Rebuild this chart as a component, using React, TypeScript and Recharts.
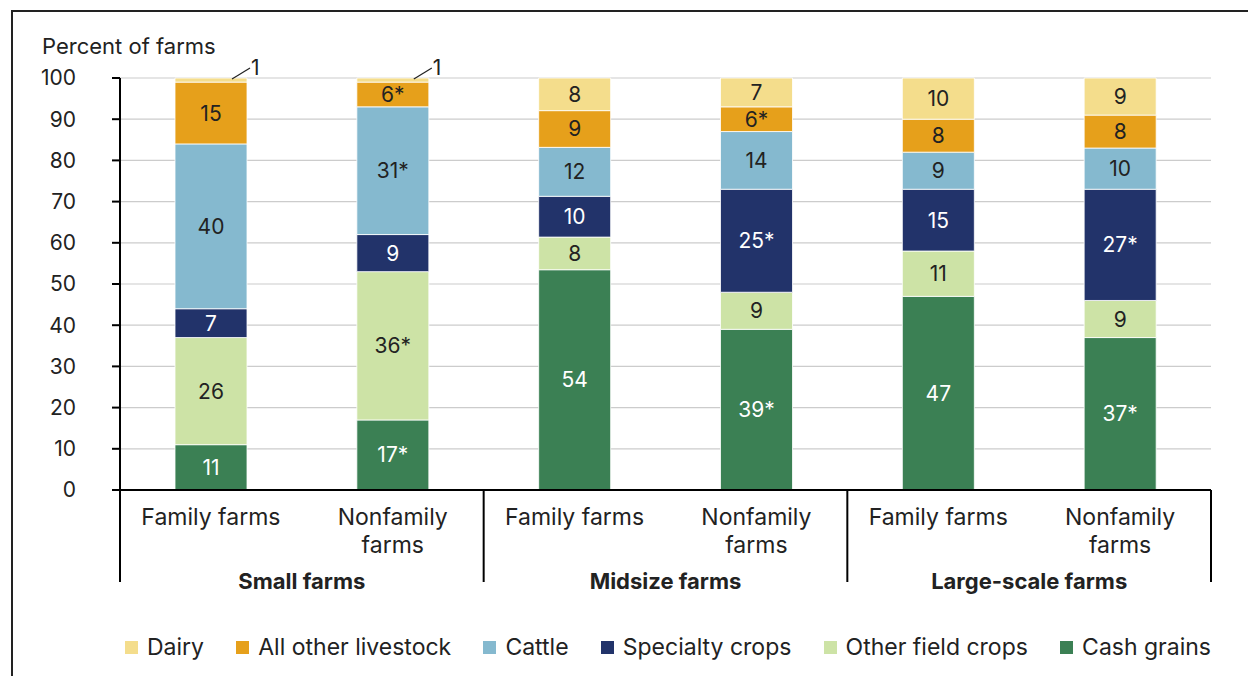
import React from 'react';
import { BarChart, Bar, XAxis, YAxis, CartesianGrid, LabelList } from 'recharts';

// ─── data ───────────────────────────────────────────────────────────────────
const farmSizes = ['Small farms', 'Midsize farms', 'Large-scale farms'];
const farmTypes = [
  'Family farms', 'Nonfamily farms',
  'Family farms', 'Nonfamily farms',
  'Family farms', 'Nonfamily farms',
];

// percent of farms, stacked bottom → top
const cashGrains = [11, 17, 54, 39, 47, 37];
const otherFieldCrops = [26, 36, 8, 9, 11, 9];
const specialtyCrops = [7, 9, 10, 25, 15, 27];
const cattle = [40, 31, 12, 14, 9, 10];
const otherLivestock = [15, 6, 9, 6, 8, 8];
const dairy = [1, 1, 8, 7, 10, 9];

// statistically different from family farms of same size (*)
const cashGrainsSig = [false, true, false, true, false, true];
const otherFieldSig = [false, true, false, false, false, false];
const specialtySig = [false, false, false, true, false, true];
const cattleSig = [false, true, false, false, false, false];
const livestockSig = [false, true, false, true, false, false];
const dairySig = [false, false, false, false, false, false];

const yTicks = [0, 10, 20, 30, 40, 50, 60, 70, 80, 90, 100];

const series = [
  { key: 'cash', name: 'Cash grains', values: cashGrains, sig: cashGrainsSig, color: '#3B8054', text: '#ffffff' },
  { key: 'field', name: 'Other field crops', values: otherFieldCrops, sig: otherFieldSig, color: '#CDE3A6', text: '#222222' },
  { key: 'specialty', name: 'Specialty crops', values: specialtyCrops, sig: specialtySig, color: '#22336A', text: '#ffffff' },
  { key: 'cattle', name: 'Cattle', values: cattle, sig: cattleSig, color: '#85B9CF', text: '#222222' },
  { key: 'livestock', name: 'All other livestock', values: otherLivestock, sig: livestockSig, color: '#E6A01B', text: '#222222' },
  { key: 'dairy', name: 'Dairy', values: dairy, sig: dairySig, color: '#F4DD8C', text: '#222222' },
];

const data = farmTypes.map((type, i) => {
  const row: Record<string, string | number> = { type };
  series.forEach((s) => {
    row[s.key] = s.values[i];
    row[`${s.key}Label`] = `${s.values[i]}${s.sig[i] ? '*' : ''}`;
  });
  return row;
});

const FONT = "Inter, 'Noto Sans', sans-serif";
const INK = '#222222';

// ─── in-bar labels; tiny segments get a leader line out to the right ─────────
const makeLabel = (fill: string) => (props: any) => {
  const { x, y, width, height, value } = props;
  if (height < 12) {
    const right = x + width;
    return (
      <g>
        <line x1={right - 15} y1={y + 1} x2={right + 3} y2={y - 10} stroke={INK} strokeWidth={1.2} />
        <text x={right + 4} y={y - 3} fill={INK} fontSize={21} fontFamily={FONT}>
          {value}
        </text>
      </g>
    );
  }
  return (
    <text
      x={x + width / 2}
      y={y + height / 2}
      fill={fill}
      fontSize={21}
      fontFamily={FONT}
      textAnchor="middle"
      dominantBaseline="central"
    >
      {value}
    </text>
  );
};

// ─── two-level category axis: farm type, then size group with dividers ──────
const GroupedTick = (props: any) => {
  const { x, y, payload, index } = props;
  const half = payload?.offset ?? 91;
  const label: string = payload.value;
  const lines = label.startsWith('Nonfamily') ? ['Nonfamily', 'farms'] : [label];
  const isGroupStart = index % 2 === 0;
  const isLast = index === farmTypes.length - 1;
  return (
    <g>
      {lines.map((l, i) => (
        <text
          key={i}
          x={x}
          y={y + 35 + i * 28}
          textAnchor="middle"
          fill={INK}
          fontSize={23}
          fontFamily={FONT}
        >
          {l}
        </text>
      ))}
      {isGroupStart && (
        <>
          <line x1={x - half} y1={y} x2={x - half} y2={y + 92} stroke="#000" strokeWidth={2} />
          <text
            x={x + half}
            y={y + 99}
            textAnchor="middle"
            fill={INK}
            fontSize={22}
            fontWeight={700}
            fontFamily={FONT}
          >
            {farmSizes[index / 2]}
          </text>
        </>
      )}
      {isLast && <line x1={x + half} y1={y} x2={x + half} y2={y + 92} stroke="#000" strokeWidth={2} />}
    </g>
  );
};

const App: React.FC = () => {
  return (
    <div style={{ position: 'absolute', left: 0, top: 0, width: 1248, height: 676, background: '#fff', fontFamily: FONT }}>
      {/* panel frame */}
      <div
        style={{
          position: 'absolute',
          left: 11,
          top: 10,
          right: 0,
          bottom: 0,
          borderTop: '2px solid #222',
          borderLeft: '2px solid #222',
        }}
      />
      <div style={{ position: 'absolute', left: 42, top: 33, fontSize: 22, color: INK }}>Percent of farms</div>

      <BarChart
        width={1248}
        height={676}
        data={data}
        stackOffset="expand"
        barSize={72}
        margin={{ top: 78, right: 37, left: 60, bottom: 86 }}
        style={{ position: 'absolute', left: 0, top: 0 }}
      >
        <CartesianGrid vertical={false} stroke="#cccccc" strokeWidth={1.2} />
        <YAxis
          width={60}
          domain={[0, 1]}
          ticks={yTicks.map((t) => t / 100)}
          tickFormatter={(v: number) => String(Math.round(v * 100))}
          axisLine={{ stroke: '#000', strokeWidth: 2 }}
          tickLine={{ stroke: '#000', strokeWidth: 2 }}
          tickSize={8}
          tickMargin={36}
          tick={{ fill: INK, fontSize: 21, fontFamily: FONT }}
        />
        <XAxis
          dataKey="type"
          height={100}
          axisLine={{ stroke: '#000', strokeWidth: 2 }}
          tickLine={false}
          tickSize={0}
          tickMargin={0}
          interval={0}
          tick={<GroupedTick />}
        />
        {series.map((s) => (
          <Bar
            key={s.key}
            dataKey={s.key}
            name={s.name}
            stackId="farms"
            fill={s.color}
            stroke="#ffffff"
            strokeWidth={0.8}
            isAnimationActive={false}
          >
            <LabelList dataKey={`${s.key}Label`} content={makeLabel(s.text)} />
          </Bar>
        ))}
      </BarChart>

      {/* legend, listed top of stack first */}
      <div
        style={{
          position: 'absolute',
          left: 125,
          top: 633,
          width: 1086,
          display: 'flex',
          justifyContent: 'space-between',
          fontSize: 23,
          color: INK,
        }}
      >
        {[...series].reverse().map((s) => (
          <div key={s.key} style={{ display: 'flex', alignItems: 'center', whiteSpace: 'nowrap' }}>
            <span style={{ width: 13, height: 13, background: s.color, marginRight: 9, display: 'inline-block' }} />
            {s.name}
          </div>
        ))}
      </div>
    </div>
  );
};

export default App;
